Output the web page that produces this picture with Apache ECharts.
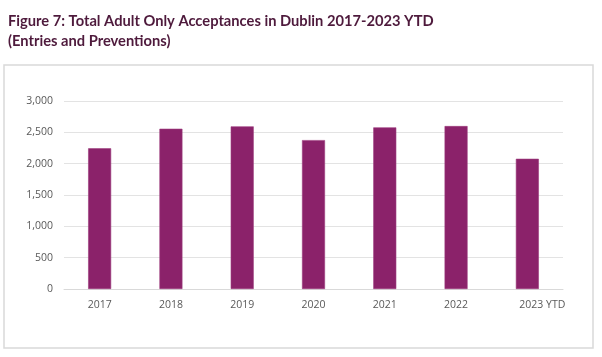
<!DOCTYPE html>
<html>
<head>
<meta charset="utf-8">
<script src="https://cdn.jsdelivr.net/npm/echarts@6/dist/echarts.min.js"></script>
<style>
html,body{margin:0;padding:0;background:#fff;}
#main{width:602px;height:357px;}
</style>
</head>
<body>
<div id="main"></div>
<script>
const categories = ['2017', '2018', '2019', '2020', '2021', '2022', '2023 YTD'];
const acceptances = [2245, 2557, 2595, 2376, 2579, 2600, 2078];
const yTicks = [0, 500, 1000, 1500, 2000, 2500, 3000];
const titleLines = ['Figure 7: Total Adult Only Acceptances in Dublin 2017-2023 YTD', '(Entries and Preventions)'];

const chart = echarts.init(document.getElementById('main'), null, {renderer: 'canvas'});
chart.setOption({
  animation: false,
  backgroundColor: '#fff',
  title: {
    text: titleLines.join('\n'),
    left: 3,
    top: 6,
    textStyle: {
      fontFamily: 'Lato',
      fontWeight: 'bold',
      fontSize: 14.7,
      lineHeight: 20,
      color: '#4e1a3c'
    }
  },
  graphic: [{
    type: 'rect',
    shape: {x: 4, y: 65, width: 589, height: 283},
    style: {fill: 'none', stroke: '#d9d9d9', lineWidth: 1.5},
    silent: true
  }],
  grid: {left: 64, right: 39, top: 101, bottom: 68, containLabel: false},
  xAxis: {
    type: 'category',
    data: categories,
    axisLine: {show: true, lineStyle: {color: '#d9d9d9', width: 1}},
    axisTick: {show: false},
    axisLabel: {
      interval: 0,
      margin: 9,
      fontFamily: 'Open Sans',
      fontSize: 10.5,
      lineHeight: 14,
      color: '#595959',
      formatter: function (v) {
        if (v.indexOf(' ') > 0) {
          const parts = v.split(' ');
          return '{a|' + parts[0] + '}{b| ' + parts[1] + '}';
        }
        return v;
      },
      rich: {
        a: {fontFamily: 'Open Sans', fontSize: 10.5, lineHeight: 14, color: '#595959', padding: [0, 0, 0, 30]},
        b: {fontFamily: 'Open Sans', fontSize: 10.5, lineHeight: 14, color: '#595959'}
      }
    }
  },
  yAxis: {
    type: 'value',
    min: yTicks[0],
    max: yTicks[yTicks.length - 1],
    interval: 500,
    axisLine: {show: false},
    axisTick: {show: false},
    splitLine: {lineStyle: {color: '#e3e3e3', width: 1}},
    axisLabel: {
      margin: 11,
      fontFamily: 'Open Sans',
      fontSize: 10.5,
      color: '#595959',
      formatter: function (v) { return v.toLocaleString('en-US'); }
    }
  },
  series: [{
    type: 'bar',
    data: acceptances,
    barWidth: 23,
    itemStyle: {color: '#8b226a', borderColor: '#9c3a7c', borderWidth: 0.6}
  }]
});
</script>
</body>
</html>
